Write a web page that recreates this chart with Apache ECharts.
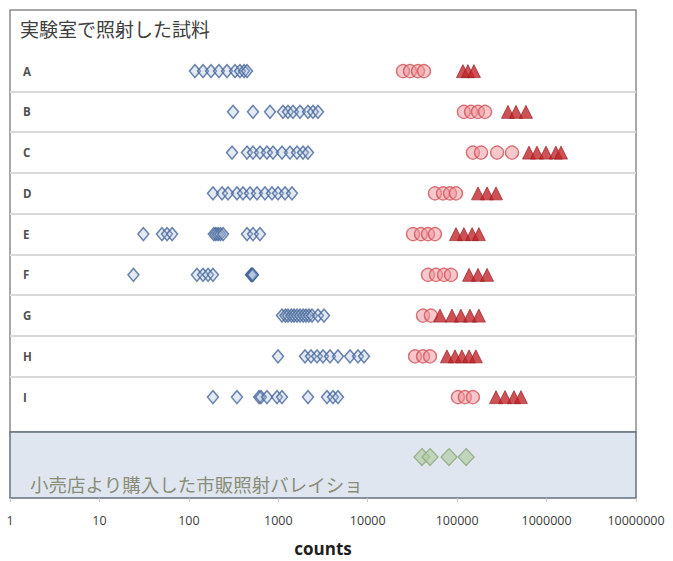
<!DOCTYPE html>
<html>
<head>
<meta charset="utf-8">
<script src="https://cdn.jsdelivr.net/npm/echarts@6/dist/echarts.min.js"></script>
<style>
  html, body { margin: 0; padding: 0; background: #ffffff; }
  #chart { width: 673px; height: 561px; }
</style>
</head>
<body>
<div id="chart"></div>
<script>
// Sample rows irradiated in the laboratory
const rows = ['A', 'B', 'C', 'D', 'E', 'F', 'G', 'H', 'I'];

// Counts per sample (one inner list per row, same order as rows)
const diamondCounts = [
  [117, 144, 177, 217, 267, 328, 373, 414, 447],
  [312, 521, 808, 1129, 1284, 1460, 1749, 2149, 2443, 2780],
  [304, 447, 521, 624, 747, 873, 1100, 1351, 1619, 1890, 2149],
  [186, 235, 274, 345, 403, 483, 578, 710, 850, 993, 1189, 1423],
  [31, 50, 57, 65, 190, 200, 212, 225, 241, 447, 521, 624],
  [24, 123, 144, 164, 186, 495, 502, 508, 515, 520],
  [1100, 1200, 1284, 1400, 1500, 1620, 1749, 1900, 2041, 2200, 2382, 2780, 3244],
  [993, 1990, 2321, 2710, 3163, 3788, 4650, 6340, 7790, 9090],
  [186, 345, 610, 640, 747, 968, 1100, 2149, 3505, 4090, 4650]
];
const circleCounts = [
  [24800, 29700, 36500, 42600],
  [119000, 143000, 171000, 205000],
  [150000, 185000, 280000, 411000],
  [56500, 69500, 83200, 97100],
  [32100, 39400, 47200, 56500],
  [47200, 58000, 71300, 85300],
  [41500, 50900],
  [33800, 41500, 49700],
  [102000, 122000, 150000]
];
const triangleCounts = [
  [116000, 132000, 154000],
  [370000, 455000, 588000],
  [636000, 781000, 985000, 1270000, 1450000],
  [171000, 216000, 272000],
  [97100, 119000, 147000, 175000],
  [136000, 171000, 216000],
  [64300, 87500, 110000, 139000, 175000],
  [76900, 94600, 113000, 136000, 162000],
  [272000, 343000, 432000, 517000]
];
// Commercial irradiated potatoes bought at a retail store
const retailCounts = [40400, 49700, 81100, 126000];

const tickLabels = ['1', '10', '100', '1000', '10000', '100000', '1000000', '10000000'];

const labTitle = '実験室で照射した試料';
const retailTitle = '小売店より購入した市販照射バレイショ';
const axisTitle = 'counts';

function toPoints(lists) {
  const out = [];
  lists.forEach((vals, i) => vals.forEach(v => out.push([v, i + 1])));
  return out;
}

// row boundaries between samples
const separators = [];
for (let i = 1; i < rows.length; i++) separators.push({ yAxis: i + 0.5 });

const chart = echarts.init(document.getElementById('chart'), null, { renderer: 'svg' });

chart.setOption({
  animation: false,
  backgroundColor: '#ffffff',
  title: [
    {
      text: labTitle, left: 20, top: 19, padding: 0,
      textStyle: { fontSize: 19, fontWeight: 'normal', color: '#404040', fontFamily: 'Noto Sans CJK JP' }
    },
    {
      text: retailTitle, left: 30, top: 475, padding: 0,
      textStyle: { fontSize: 18.5, fontWeight: 'normal', color: '#8a8d78', fontFamily: 'Noto Sans CJK JP' }
    }
  ],
  grid: [
    { left: 10, right: 37, top: 10, height: 422, show: true, backgroundColor: '#ffffff', borderColor: '#8c8c8c', borderWidth: 1.5 },
    { left: 10, right: 37, top: 432, height: 66, show: true, backgroundColor: '#dfe6f0', borderColor: '#66717f', borderWidth: 1.5 }
  ],
  xAxis: [
    { gridIndex: 0, type: 'log', logBase: 10, min: 1, max: 1e7, show: false },
    {
      gridIndex: 1, type: 'log', logBase: 10, min: 1, max: 1e7,
      axisLine: { show: false },
      axisTick: { show: true, length: 4, lineStyle: { color: '#c8c8c8' } },
      splitLine: { show: false },
      axisLabel: {
        margin: 16, fontSize: 12.5, color: '#3c3c3c', fontFamily: 'Open Sans',
        showMinLabel: true, showMaxLabel: true,
        formatter: v => tickLabels[Math.round(Math.log10(v))]
      },
      name: axisTitle, nameLocation: 'middle', nameGap: 42,
      nameTextStyle: { fontSize: 17, fontWeight: 'bold', color: '#1e1e1e', fontFamily: 'Open Sans' }
    }
  ],
  yAxis: [
    {
      gridIndex: 0, type: 'value', inverse: true, min: -0.5, max: 9.856, interval: 0.5,
      axisLine: { show: false }, axisTick: { show: false }, splitLine: { show: false },
      axisLabel: {
        inside: true, margin: 13, fontSize: 11.5, fontWeight: 'bold', color: '#505050', fontFamily: 'Open Sans',
        formatter: v => (Number.isInteger(v) && v >= 1 && v <= rows.length) ? rows[v - 1] : ''
      }
    },
    { gridIndex: 1, type: 'value', min: 0, max: 1, show: false }
  ],
  series: [
    {
      name: 'diamond', type: 'scatter', xAxisIndex: 0, yAxisIndex: 0,
      symbol: 'diamond', symbolSize: [11, 13],
      itemStyle: { color: 'rgba(170,190,222,0.4)', borderColor: '#46669a', borderWidth: 1.5 },
      data: toPoints(diamondCounts),
      markLine: {
        silent: true, symbol: 'none', label: { show: false },
        lineStyle: { color: '#d9d9d9', width: 2, type: 'solid' },
        data: separators
      }
    },
    {
      name: 'circle', type: 'scatter', xAxisIndex: 0, yAxisIndex: 0,
      symbol: 'circle', symbolSize: 13,
      itemStyle: { color: 'rgba(238,150,155,0.65)', borderColor: '#d0545a', borderWidth: 1.4 },
      data: toPoints(circleCounts)
    },
    {
      name: 'triangle', type: 'scatter', xAxisIndex: 0, yAxisIndex: 0,
      symbol: 'triangle', symbolSize: [13, 13],
      itemStyle: { color: '#c0252b', borderColor: '#951a1f', borderWidth: 0.8 },
      data: toPoints(triangleCounts)
    },
    {
      name: 'retail', type: 'scatter', xAxisIndex: 1, yAxisIndex: 1,
      symbol: 'diamond', symbolSize: [16, 17],
      itemStyle: { color: 'rgba(176,204,158,0.8)', borderColor: '#8aa87a', borderWidth: 1.3 },
      data: retailCounts.map(v => [v, 0.62])
    }
  ]
});
</script>
</body>
</html>
